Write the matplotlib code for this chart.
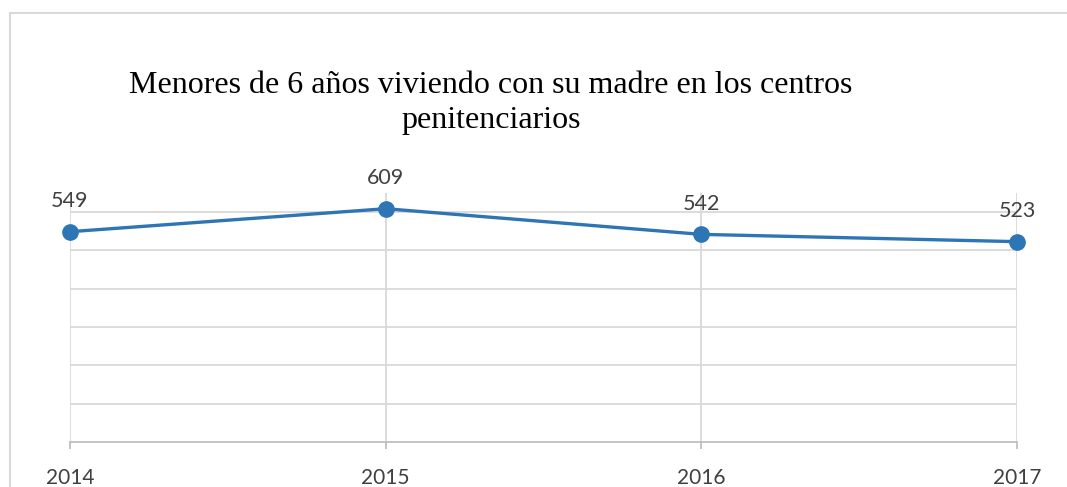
import matplotlib
matplotlib.use("Agg")
import matplotlib.pyplot as plt
from matplotlib.lines import Line2D

years = ["2014", "2015", "2016", "2017"]
values = [549, 609, 542, 523]
title = "Menores de 6 años viviendo con su madre en los centros\npenitenciarios"

W, H = 1067, 487
fig = plt.figure(figsize=(W / 100, H / 100), dpi=100)

# outer chart frame (left and top edges visible)
fig.add_artist(Line2D([9.5 / W, 9.5 / W], [0, 1 - 13 / H], color="#D9D9D9", lw=1.5, transform=fig.transFigure))
fig.add_artist(Line2D([9.5 / W, 1], [1 - 13 / H, 1 - 13 / H], color="#D9D9D9", lw=1.5, transform=fig.transFigure))

left, right, bottom, top = 70, 1017, 442, 193
ax = fig.add_axes([left / W, 1 - bottom / H, (right - left) / W, (bottom - top) / H])

x = list(range(len(years)))
ax.set_xlim(0, len(years) - 1)
ax.set_ylim(0, 650)

for s in ["top", "right", "left"]:
    ax.spines[s].set_visible(False)
ax.spines["bottom"].set_color("#BFBFBF")
ax.spines["bottom"].set_linewidth(1.3)

ax.set_yticks([100, 200, 300, 400, 500, 600])
ax.yaxis.grid(True, color="#D9D9D9", lw=1.3)
ax.tick_params(axis="y", left=False, labelleft=False)
ax.set_xticks(x)
ax.set_xticklabels(years, fontfamily="Lato", fontsize=15, color="#404040")
ax.tick_params(axis="x", length=5, width=1.3, color="#BFBFBF", pad=14)
ax.xaxis.grid(True, color="#D9D9D9", lw=1.3)
ax.set_axisbelow(True)

ax.plot(x, values, color="#2E75B6", lw=2.4, marker="o", markersize=11, clip_on=False, zorder=5)

for xi, v in zip(x, values):
    ax.annotate(str(v), (xi, v), xytext=(0, 17.5), textcoords="offset points",
                ha="center", va="baseline", fontfamily="Lato", fontsize=15.5, color="#404040")

fig.text(491 / W, 1 - 103 / H, title, ha="center", va="center", fontfamily="Liberation Serif",
         fontsize=23, color="black", linespacing=1.27)

fig.savefig("out.png", dpi=100)
